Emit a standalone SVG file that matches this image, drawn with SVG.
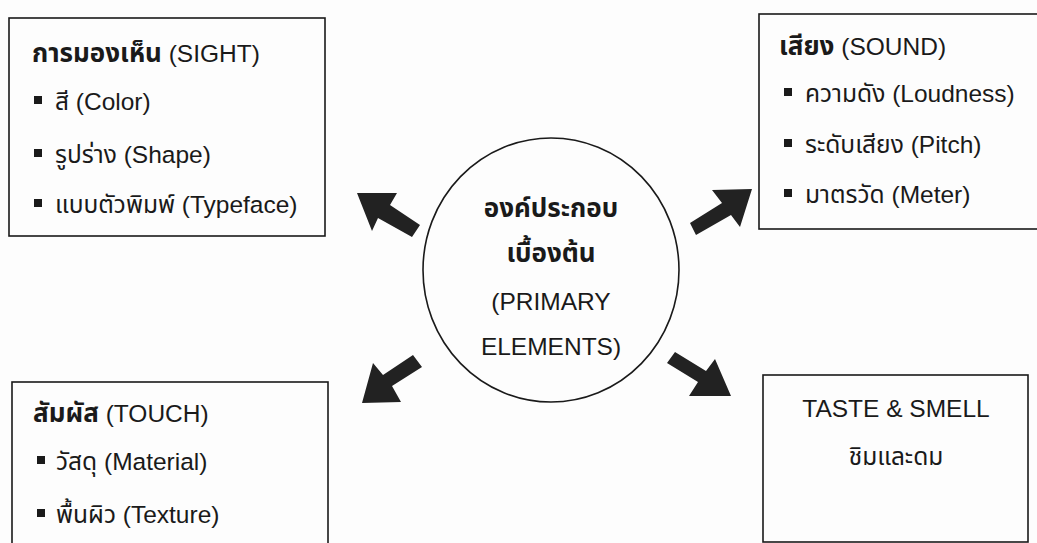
<svg xmlns="http://www.w3.org/2000/svg" width="1037" height="543" viewBox="0 0 1037 543">
<style>
.box{fill:none;stroke:#1a1a1a;stroke-width:1.6}
text{font-family:"Liberation Sans","Noto Sans Thai","Noto Sans",sans-serif;font-size:24.5px;fill:#1a1a1a}
.th{font-weight:bold;font-size:26px}
.c{text-anchor:middle}
.bul{fill:#1a1a1a}
.arr{fill:#222}
</style>
<rect width="1037" height="543" fill="#fdfdfd"/>
<g id="sight">
<rect class="box" x="9" y="18" width="316" height="218"/>
<text x="32" y="62"><tspan class="th">การมองเห็น</tspan> (SIGHT)</text>
<rect class="bul" x="34" y="96" width="8" height="8"/>
<text x="55" y="110">สี (Color)</text>
<rect class="bul" x="34" y="149" width="8" height="8"/>
<text x="55" y="163">รูปร่าง (Shape)</text>
<rect class="bul" x="34" y="199" width="8" height="8"/>
<text x="55" y="213">แบบตัวพิมพ์ (Typeface)</text>
</g>
<g id="sound">
<rect class="box" x="759" y="14" width="290" height="215"/>
<text x="779" y="55"><tspan class="th">เสียง</tspan> (SOUND)</text>
<rect class="bul" x="784" y="88" width="8" height="8"/>
<text x="805" y="102">ความดัง (Loudness)</text>
<rect class="bul" x="784" y="139" width="8" height="8"/>
<text x="805" y="153">ระดับเสียง (Pitch)</text>
<rect class="bul" x="784" y="189" width="8" height="8"/>
<text x="805" y="203">มาตรวัด (Meter)</text>
</g>
<g id="touch">
<rect class="box" x="12" y="382" width="316" height="180"/>
<text x="33" y="422"><tspan class="th">สัมผัส</tspan> (TOUCH)</text>
<rect class="bul" x="37" y="456" width="8" height="8"/>
<text x="56" y="470">วัสดุ (Material)</text>
<rect class="bul" x="37" y="509" width="8" height="8"/>
<text x="56" y="523">พื้นผิว (Texture)</text>
</g>
<g id="taste">
<rect class="box" x="763" y="375" width="265" height="167"/>
<text class="c" x="896" y="417">TASTE &amp; SMELL</text>
<text class="c" x="896" y="465">ชิมและดม</text>
</g>
<g id="center">
<ellipse class="box" cx="551" cy="270" rx="128" ry="132"/>
<text class="c th" x="551" y="217">องค์ประกอบ</text>
<text class="c th" x="551" y="262">เบื้องต้น</text>
<text class="c" x="551" y="310">(PRIMARY</text>
<text class="c" x="551" y="355">ELEMENTS)</text>
</g>
<g id="connectors">
<polygon class="arr" points="357,193 397,193 390,205 420,225 412,237 378,218 372,231"/>
<polygon class="arr" points="752,189 712,190 722,203 690,223 696,235 731,215 740,227"/>
<polygon class="arr" points="362,403 373,363 383,375 413,355 422,367 392,386 401,402"/>
<polygon class="arr" points="731,396 715,359 706,371 675,352 667,363 698,382 689,396"/>
</g>
</svg>
